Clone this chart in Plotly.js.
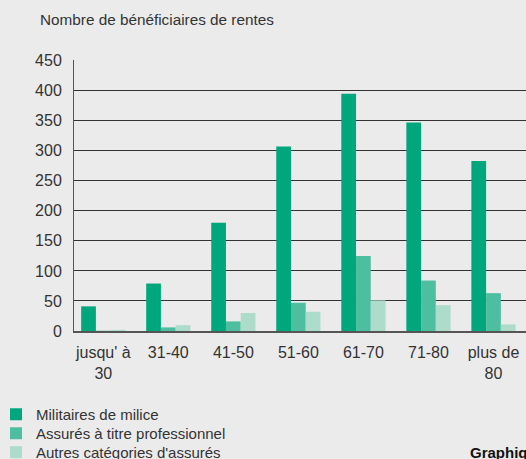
<!DOCTYPE html>
<html>
<head>
<meta charset="utf-8">
<script src="https://cdn.plot.ly/plotly-3.0.1.min.js"></script>
<style>html,body{margin:0;padding:0;background:#ebebeb;}#chart{width:526px;height:459px;}</style>
</head>
<body>
<div id="chart"></div>
<script>
const categories = ["jusqu' à<br>30", "31-40", "41-50", "51-60", "61-70", "71-80", "plus de<br>80"];
const militaires = [41, 79, 180, 307, 395, 347, 283];
const professionnels = [0.5, 6, 16, 47, 125, 84, 63];
const autres = [2, 9.5, 30, 32, 51, 43, 11];
const seriesNames = ["Militaires de milice", "Assurés à titre professionnel", "Autres catégories d'assurés"];
const yTicks = [0, 50, 100, 150, 200, 250, 300, 350, 400, 450];

const colors = ["#00a77c", "#4dbfa0", "#addcca"];
const legendIds = ['legend', 'legend2', 'legend3'];
const data = [militaires, professionnels, autres].map((vals, i) => ({
  type: 'bar', x: categories, y: vals, name: seriesNames[i],
  marker: {color: colors[i]}, hoverinfo: 'skip', legend: legendIds[i]
}));

const layout = {
  width: 526, height: 459,
  paper_bgcolor: '#ebebeb', plot_bgcolor: '#ebebeb',
  margin: {l: 74, r: 0, t: 60, b: 128, autoexpand: false},
  font: {family: 'Liberation Sans, Arial, sans-serif', color: '#333', size: 15},
  barmode: 'group', bargap: 0.32, bargroupgap: 0,
  showlegend: true,
  xaxis: {type: 'category', range: [-0.45, 6.5], showgrid: false, showline: true, linecolor: '#555', linewidth: 2,
          ticks: '', tickfont: {size: 16, color: '#333'}, ticklabelstandoff: 6, fixedrange: true},
  yaxis: {range: [0, 451], tickvals: yTicks, showgrid: true, gridcolor: '#333', gridwidth: 1,
          showline: true, linecolor: '#555', linewidth: 1, zeroline: false,
          ticks: 'outside', ticklen: 8, tickcolor: 'rgba(0,0,0,0)', tickfont: {size: 16, color: '#333'}, fixedrange: true},
  title: {text: 'Nombre de bénéficiaires de rentes', x: 40/526, xref: 'container', xanchor: 'left',
          y: 1 - 20/459, yanchor: 'middle', font: {size: 15.3, color: '#333'}},
  annotations: [{text: '<b>Graphique</b>', xref: 'paper', yref: 'paper', x: (468-74)/452, y: -(452-331)/271,
                 xanchor: 'left', yanchor: 'middle', showarrow: false, font: {size: 15, color: '#111'}}]
};
const rowCenters = [413, 432, 451];
legendIds.forEach((id, i) => {
  layout[id] = {xref: 'paper', yref: 'container', x: (-4 - 74) / 452, y: 1 - (rowCenters[i] - 15) / 459,
                xanchor: 'left', yanchor: 'top', bgcolor: 'rgba(0,0,0,0)', font: {size: 15, color: '#333'}};
});
Plotly.newPlot('chart', data, layout, {staticPlot: true});
</script>
</body>
</html>
